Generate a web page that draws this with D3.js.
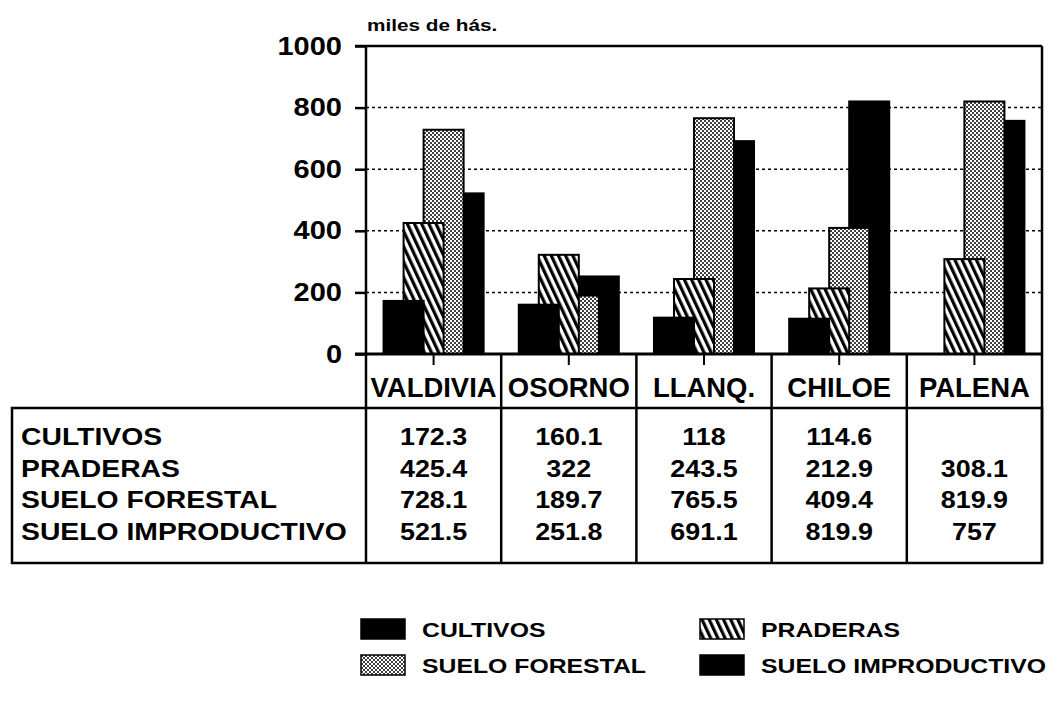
<!DOCTYPE html>
<html>
<head>
<meta charset="utf-8">
<script src="https://cdn.jsdelivr.net/npm/d3@7"></script>
<style>
  body { margin: 0; background: #fff; }
  svg { display: block; font-family: 'Liberation Sans', Arial, sans-serif; font-weight: bold; }
</style>
</head>
<body>
<script>
// data (miles de hás.)
const categories = ['VALDIVIA', 'OSORNO', 'LLANQ.', 'CHILOE', 'PALENA'];
const seriesNames = ['CULTIVOS', 'PRADERAS', 'SUELO FORESTAL', 'SUELO IMPRODUCTIVO'];
const cultivos = [172.3, 160.1, 118, 114.6, null];
const praderas = [425.4, 322, 243.5, 212.9, 308.1];
const forestal = [728.1, 189.7, 765.5, 409.4, 819.9];
const improductivo = [521.5, 251.8, 691.1, 819.9, 757];
const yTicks = [0, 200, 400, 600, 800, 1000];
const unitLabel = 'miles de hás.';

const seriesValues = [cultivos, praderas, forestal, improductivo];
const fills = ['#000', 'url(#hatch)', 'url(#dots)', '#000'];

const W = 1059, H = 701;
const plotLeft = 366, plotRight = 1042, plotTop = 46, plotBottom = 354;
const catRowBottom = 408, tableLeft = 12, tableBottom = 563;
const rowY = [437, 468.5, 500, 531.5];

const svg = d3.select('body').append('svg')
  .attr('width', W)
  .attr('height', H);

// fill patterns of the old plotter output
const defs = svg.append('defs');
const hatch = defs.append('pattern')
  .attr('id', 'hatch')
  .attr('patternUnits', 'userSpaceOnUse')
  .attr('width', 6.5)
  .attr('height', 6.5)
  .attr('patternTransform', 'rotate(-25)');
hatch.append('rect').attr('width', 6.5).attr('height', 6.5).attr('fill', '#fff');
hatch.append('rect').attr('width', 3.2).attr('height', 6.5).attr('fill', '#000');

const dots = defs.append('pattern')
  .attr('id', 'dots')
  .attr('patternUnits', 'userSpaceOnUse')
  .attr('width', 4)
  .attr('height', 4);
dots.append('rect').attr('width', 4).attr('height', 4).attr('fill', '#fff');
dots.append('circle').attr('cx', 1).attr('cy', 1).attr('r', 1).attr('fill', '#000');
dots.append('circle').attr('cx', 3).attr('cy', 3).attr('r', 1).attr('fill', '#000');

// stretch text horizontally, the scanned lettering is wide
function stretch(sel, k) {
  sel.each(function() {
    let len = this.getComputedTextLength();
    d3.select(this)
      .attr('textLength', len * k)
      .attr('lengthAdjust', 'spacingAndGlyphs');
  });
}

const x = d3.scaleBand()
  .domain(categories)
  .range([plotLeft, plotRight]);

const y = d3.scaleLinear()
  .domain([0, 1000])
  .range([plotBottom, plotTop]);

// overlapping bars inside each group
const barW = x.bandwidth() * 0.296;
const xInner = d3.scalePoint()
  .domain(seriesNames)
  .range([-barW * 0.75, barW * 0.75]);

// dotted grid
svg.append('g')
  .selectAll('line')
  .data(yTicks.filter(function(d) { return d > 0 && d < 1000; }))
  .enter()
  .append('line')
  .attr('x1', plotLeft)
  .attr('x2', plotRight)
  .attr('y1', function(d) { return y(d); })
  .attr('y2', function(d) { return y(d); })
  .attr('stroke', '#000')
  .attr('stroke-width', 1.5)
  .attr('stroke-dasharray', '3,3');

// y axis
const yAxis = svg.append('g')
  .attr('transform', 'translate(' + plotLeft + ',0)')
  .call(d3.axisLeft(y).tickValues(yTicks).tickFormat(d3.format('d')).tickSize(11).tickPadding(13));
yAxis.select('.domain').remove();
yAxis.selectAll('line').attr('stroke', '#000').attr('stroke-width', 2.5);
yAxis.selectAll('text')
  .attr('font-size', 25)
  .attr('font-family', "'Liberation Sans', Arial, sans-serif")
  .attr('font-weight', 'bold')
  .attr('fill', '#000')
  .call(stretch, 1.16);

svg.append('text')
  .attr('x', plotLeft + 1)
  .attr('y', 31)
  .attr('font-size', 17)
  .text(unitLabel)
  .call(stretch, 1.22);

// bars, drawn back to front so CULTIVOS sits in front
const order = [3, 2, 1, 0];
order.forEach(function(s) {
  let rows = categories
    .map(function(c, i) { return { cat: c, v: seriesValues[s][i] }; })
    .filter(function(d) { return d.v != null; });
  svg.append('g')
    .attr('class', 'series-' + s)
    .selectAll('rect')
    .data(rows)
    .enter()
    .append('rect')
    .attr('x', function(d) { return x(d.cat) + x.bandwidth() / 2 + xInner(seriesNames[s]) - barW / 2; })
    .attr('y', function(d) { return y(d.v); })
    .attr('width', barW)
    .attr('height', function(d) { return y(0) - y(d.v); })
    .attr('fill', fills[s])
    .attr('stroke', '#000')
    .attr('stroke-width', 2);
});

// frame of the plot and the table
const frame = svg.append('g')
  .attr('stroke', '#000')
  .attr('stroke-width', 2.5)
  .attr('fill', 'none');
frame.append('line').attr('x1', plotLeft - 11).attr('x2', plotRight).attr('y1', y(1000)).attr('y2', y(1000));
frame.append('line').attr('x1', plotLeft - 11).attr('x2', plotRight).attr('y1', y(0)).attr('y2', y(0)).attr('stroke-width', 3);
frame.append('line').attr('x1', plotRight).attr('x2', plotRight).attr('y1', y(1000)).attr('y2', tableBottom);
frame.append('line').attr('x1', plotLeft).attr('x2', plotLeft).attr('y1', y(1000)).attr('y2', tableBottom);
frame.append('rect')
  .attr('x', tableLeft)
  .attr('y', catRowBottom)
  .attr('width', plotRight - tableLeft)
  .attr('height', tableBottom - catRowBottom);
frame.selectAll('.divider')
  .data(categories.slice(1))
  .enter()
  .append('line')
  .attr('x1', function(d) { return x(d); })
  .attr('x2', function(d) { return x(d); })
  .attr('y1', y(0))
  .attr('y2', tableBottom);

// x axis: small ticks under the baseline and category names
const xAxis = svg.append('g')
  .attr('transform', 'translate(0,' + y(0) + ')')
  .call(d3.axisBottom(x).tickSize(11).tickPadding(12));
xAxis.select('.domain').remove();
xAxis.selectAll('line').attr('stroke', '#000').attr('stroke-width', 2);
xAxis.selectAll('text')
  .attr('font-size', 28)
  .attr('font-family', "'Liberation Sans', Arial, sans-serif")
  .attr('font-weight', 'bold')
  .attr('fill', '#000')
  .call(stretch, 0.98);

// data table
svg.append('g')
  .selectAll('text')
  .data(seriesNames)
  .enter()
  .append('text')
  .attr('x', tableLeft + 9)
  .attr('y', function(d, i) { return rowY[i]; })
  .attr('dy', '0.35em')
  .attr('font-size', 24)
  .text(function(d) { return d; })
  .call(stretch, 1.18);

seriesValues.forEach(function(vals, s) {
  svg.append('g')
    .selectAll('text')
    .data(categories.map(function(c, i) { return { cat: c, v: vals[i] }; }).filter(function(d) { return d.v != null; }))
    .enter()
    .append('text')
    .attr('x', function(d) { return x(d.cat) + x.bandwidth() / 2; })
    .attr('y', rowY[s])
    .attr('dy', '0.35em')
    .attr('text-anchor', 'middle')
    .attr('font-size', 24)
    .text(function(d) { return d.v; })
    .call(stretch, 1.12);
});

// legend, two columns
const legend = svg.append('g')
  .selectAll('g')
  .data(seriesNames)
  .enter()
  .append('g')
  .attr('transform', function(d, i) {
    return 'translate(' + (i % 2 === 0 ? 361 : 700) + ',' + (i < 2 ? 619 : 655) + ')';
  });
legend.append('rect')
  .attr('width', 44)
  .attr('height', 20)
  .attr('fill', function(d, i) { return fills[i]; })
  .attr('stroke', '#000')
  .attr('stroke-width', 1.5);
legend.append('text')
  .attr('x', 61)
  .attr('y', 10)
  .attr('dy', '0.36em')
  .attr('font-size', 21)
  .text(function(d) { return d; })
  .call(stretch, 1.18);
</script>
</body>
</html>
